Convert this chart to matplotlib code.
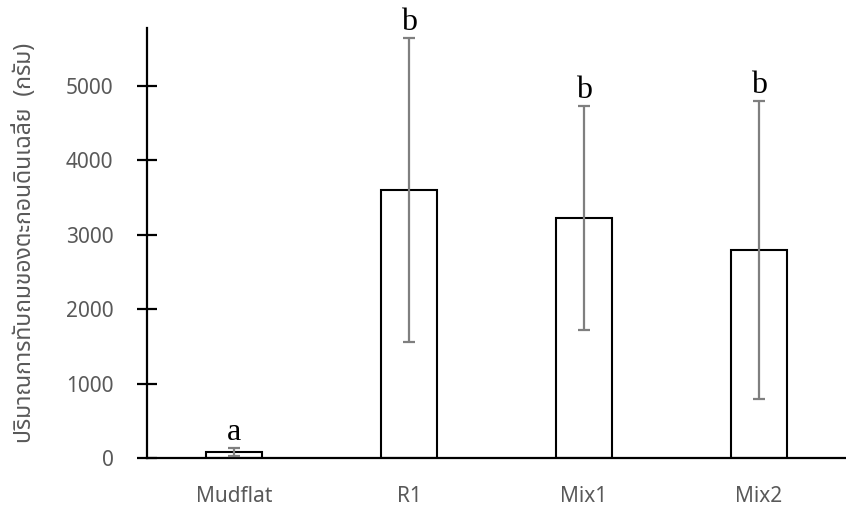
import matplotlib
matplotlib.use("Agg")
import matplotlib.pyplot as plt
import numpy as np

categories = ["Mudflat", "R1", "Mix1", "Mix2"]
means = [80, 3600, 3225, 2795]
errors = [55, 2040, 1500, 2000]
letters = ["a", "b", "b", "b"]
yticks = [0, 1000, 2000, 3000, 4000, 5000]
ylabel = "ปริมาณการทับถมของตะกอนดินเฉลี่ย  (กรัม)"

plt.rcParams['font.family'] = ['Noto Sans Thai', 'Noto Sans', 'DejaVu Sans']

fig = plt.figure(figsize=(8.46, 5.14), dpi=100)
ax = fig.add_axes([0.1738, 0.109, 0.8262, 0.8365])

x = np.arange(len(categories))
ax.bar(x, means, width=0.32, color="white", edgecolor="black", linewidth=1.5, zorder=2)
ax.errorbar(x, means, yerr=errors, fmt="none", ecolor="#7f7f7f", elinewidth=1.6,
            capsize=4.4, capthick=1.6, zorder=3)
for xi, m, e, l in zip(x, means, errors, letters):
    ax.annotate(l, (xi, m + e), xytext=(0, 1), textcoords="offset points",
                ha="center", va="bottom", fontsize=23, family="Liberation Serif", color="black")

ax.set_xlim(-0.5, 3.5)
ax.set_ylim(0, 5780)
ax.set_yticks(yticks)
ax.set_xticks(x)
ax.set_xticklabels(categories)
for s in ["top", "right"]:
    ax.spines[s].set_visible(False)
ax.spines["left"].set_linewidth(1.6)
ax.spines["bottom"].set_linewidth(1.6)
ax.tick_params(axis="y", direction="inout", length=14.4, width=1.6, pad=17,
               labelsize=15, labelcolor="#595959")
ax.tick_params(axis="x", length=0, pad=20, labelsize=15, labelcolor="#595959")
ax.set_ylabel(ylabel, fontsize=16.5, color="#595959", va="center")
ax.yaxis.set_label_coords(-0.1745, 0.5)

fig.savefig("out.png", dpi=100)
